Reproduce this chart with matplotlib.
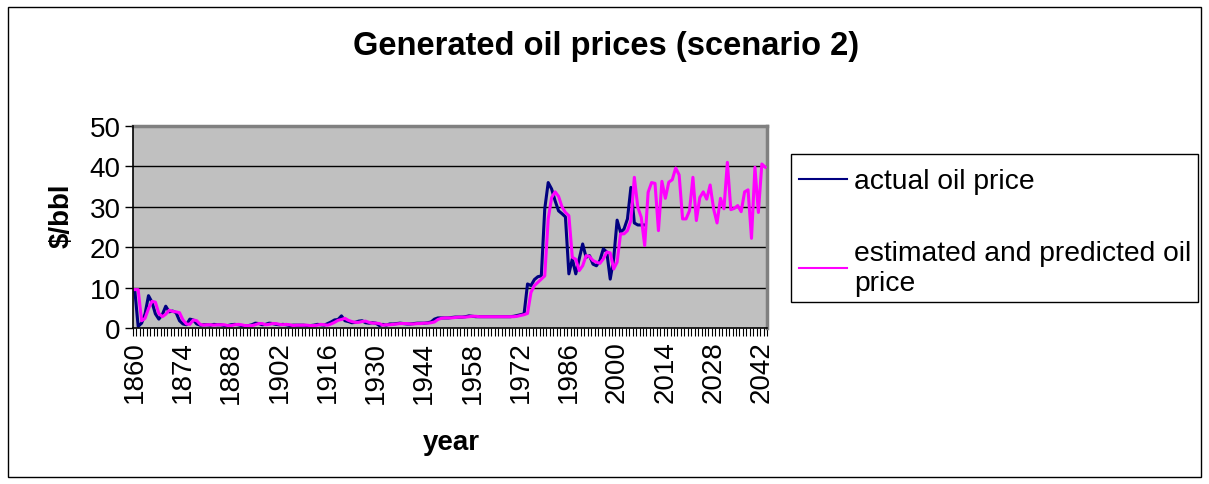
import matplotlib
matplotlib.use("Agg")
import matplotlib.pyplot as plt
from matplotlib.patches import Rectangle
from matplotlib.lines import Line2D

plt.rcParams['font.family'] = ['Liberation Sans', 'DejaVu Sans']

first_year = 1860
last_year = 2043
tick_step = 14

# actual oil price, 1860..2008
actual = [
    9.5, 0.4, 1.2, 3.5, 8.0, 6.4, 3.5, 2.2, 3.3, 5.4,
    4.0, 4.2, 3.8, 1.8, 1.0, 0.8, 2.2, 2.0, 1.0, 0.7,
    0.8, 0.8, 0.7, 0.9, 0.8, 0.8, 0.6, 0.6, 0.8, 0.9,
    0.8, 0.6, 0.5, 0.6, 0.8, 1.2, 1.1, 0.8, 0.9, 1.2,
    1.1, 0.9, 0.8, 0.9, 0.8, 0.6, 0.7, 0.7, 0.7, 0.7,
    0.6, 0.6, 0.7, 0.9, 0.8, 0.7, 1.1, 1.5, 2.0, 2.1,
    3.0, 1.8, 1.6, 1.3, 1.4, 1.7, 1.8, 1.3, 1.2, 1.3,
    1.2, 0.6, 0.9, 0.7, 1.0, 1.0, 1.1, 1.2, 1.1, 1.0,
    1.0, 1.1, 1.2, 1.2, 1.2, 1.3, 1.5, 2.2, 2.5, 2.5,
    2.5, 2.5, 2.6, 2.7, 2.7, 2.7, 2.8, 3.0, 2.9, 2.8,
    2.8, 2.8, 2.8, 2.8, 2.8, 2.8, 2.8, 2.8, 2.8, 2.8,
    2.9, 3.1, 3.3, 3.5, 10.9, 10.5, 12.0, 12.7, 12.9, 29.5,
    36.0, 34.4, 31.5, 29.0, 28.3, 27.5, 13.4, 17.1, 13.4, 17.1,
    20.8, 17.5, 17.9, 15.8, 15.4, 16.7, 19.6, 18.8, 12.1, 17.1,
    26.7, 23.7, 24.5, 27.0, 34.8, 26.0, 25.5, 25.5, 25.5,
]

# estimated and predicted oil price, 1860..2043
predicted = [
    9.5, 9.5, 1.8, 2.4, 4.8, 6.6, 6.4, 3.6, 2.8, 3.4,
    4.4, 4.1, 4.0, 3.8, 2.0, 1.0, 0.9, 2.0, 1.8, 0.9,
    0.7, 0.8, 0.8, 0.7, 0.8, 0.8, 0.8, 0.6, 0.6, 0.8,
    0.9, 0.8, 0.6, 0.6, 0.6, 0.8, 1.1, 1.1, 0.8, 0.9,
    1.1, 1.1, 0.9, 0.8, 0.9, 0.8, 0.6, 0.7, 0.7, 0.7,
    0.7, 0.6, 0.6, 0.7, 0.9, 0.8, 0.7, 1.0, 1.4, 1.9,
    2.1, 2.4, 1.9, 1.6, 1.4, 1.4, 1.6, 1.7, 1.4, 1.2,
    1.2, 1.1, 0.7, 0.8, 0.8, 0.9, 1.0, 1.1, 1.1, 1.1,
    1.0, 1.0, 1.1, 1.1, 1.2, 1.2, 1.3, 1.5, 2.1, 2.4,
    2.5, 2.5, 2.5, 2.6, 2.7, 2.7, 2.7, 2.8, 2.9, 2.9,
    2.8, 2.8, 2.8, 2.8, 2.8, 2.8, 2.8, 2.8, 2.8, 2.8,
    2.8, 2.9, 3.1, 3.3, 3.6, 8.8, 10.5, 11.3, 12.1, 12.9,
    27.0, 32.3, 33.7, 32.6, 30.0, 28.6, 27.8, 17.5, 17.0, 14.2,
    15.4, 17.9, 17.7, 16.7, 16.3, 16.0, 17.1, 18.8, 18.6, 14.6,
    16.3, 23.3, 23.3, 24.1, 26.6, 37.3, 29.9, 27.4, 20.4, 33.6,
    36.0, 35.8, 24.1, 36.3, 32.1, 36.1, 36.7, 39.6, 37.9, 27.0,
    27.0, 29.0, 37.3, 26.6, 32.3, 33.7, 31.9, 35.4, 29.5, 26.0,
    32.1, 29.5, 41.0, 29.3, 29.6, 30.3, 28.8, 33.7, 34.2, 22.2,
    39.8, 28.6, 40.6, 39.8,
]

years = list(range(first_year, last_year + 1))
tick_years = years[::tick_step]
y_ticks = [0, 10, 20, 30, 40, 50]

title = "Generated oil prices (scenario 2)"
x_label = "year"
y_label = "\\$/bbl"
series_labels = ["actual oil price", "estimated and predicted oil\nprice"]

W, H = 1209, 485
fig = plt.figure(figsize=(W / 100, H / 100), dpi=100)
fig.patch.set_facecolor("white")

# outer chart border
fig.add_artist(Rectangle((8 / W, 1 - 478 / H), (1201 - 8) / W, (478 - 8) / H,
                         transform=fig.transFigure, fill=False,
                         edgecolor="black", linewidth=1.0))

left, right, top, bottom = 133, 767, 127, 329
ax = fig.add_axes([left / W, 1 - bottom / H, (right - left) / W, (bottom - top) / H])
ax.set_facecolor("#C0C0C0")

ax.plot(list(range(len(actual))), actual, color="#000080", linewidth=2.2,
        solid_joinstyle="round", zorder=3)
ax.plot(list(range(len(predicted))), predicted, color="#FF00FF", linewidth=2.2,
        solid_joinstyle="round", zorder=4)

ax.set_xlim(-0.5, len(years) - 0.5)
ax.set_ylim(0, 50)
ax.set_yticks(y_ticks)
ax.set_xticks([years.index(y) for y in tick_years])
ax.set_xticklabels([str(y) for y in tick_years], rotation=90, fontsize=20)
ax.set_xticks([i - 0.5 for i in range(len(years) + 1)], minor=True)
ax.tick_params(axis="x", which="major", length=0, pad=9)
ax.tick_params(axis="x", which="minor", length=6, width=0.8, direction="out", color="black")
ax.tick_params(axis="y", which="major", length=6, width=1, direction="out", labelsize=20, pad=3)

for v in y_ticks[1:-1]:
    ax.axhline(v, color="black", linewidth=1.0, zorder=1)

for s in ["top", "right"]:
    ax.spines[s].set_color("#808080")
    ax.spines[s].set_linewidth(2.5)
for s in ["left", "bottom"]:
    ax.spines[s].set_color("black")
    ax.spines[s].set_linewidth(1.2)
    ax.spines[s].set_zorder(5)

fig.text(606 / W, 1 - 47 / H, title, ha="center", va="center", fontsize=23.5, fontweight="bold")
fig.text(62 / W, 1 - 216 / H, y_label, ha="center", va="center", rotation=90, fontsize=20, fontweight="bold")
fig.text(451 / W, 1 - 443 / H, x_label, ha="center", va="center", fontsize=20, fontweight="bold")

# legend box
fig.add_artist(Rectangle((791 / W, 1 - 303 / H), (1198 - 791) / W, (303 - 155) / H,
                         transform=fig.transFigure, fill=False,
                         edgecolor="black", linewidth=1.0))
handles = [Line2D([], [], color="#000080", linewidth=1.5),
           Line2D([], [], color="#FF00FF", linewidth=1.5)]
leg = fig.legend(handles, series_labels, loc="upper left",
                 bbox_to_anchor=(791 / W, 1 - 161 / H), bbox_transform=fig.transFigure,
                 fontsize=20.3, frameon=False,
                 handlelength=1.7, handletextpad=0.25, labelspacing=1.6,
                 borderpad=0.3, borderaxespad=0)

fig.savefig("out.png", dpi=100)
